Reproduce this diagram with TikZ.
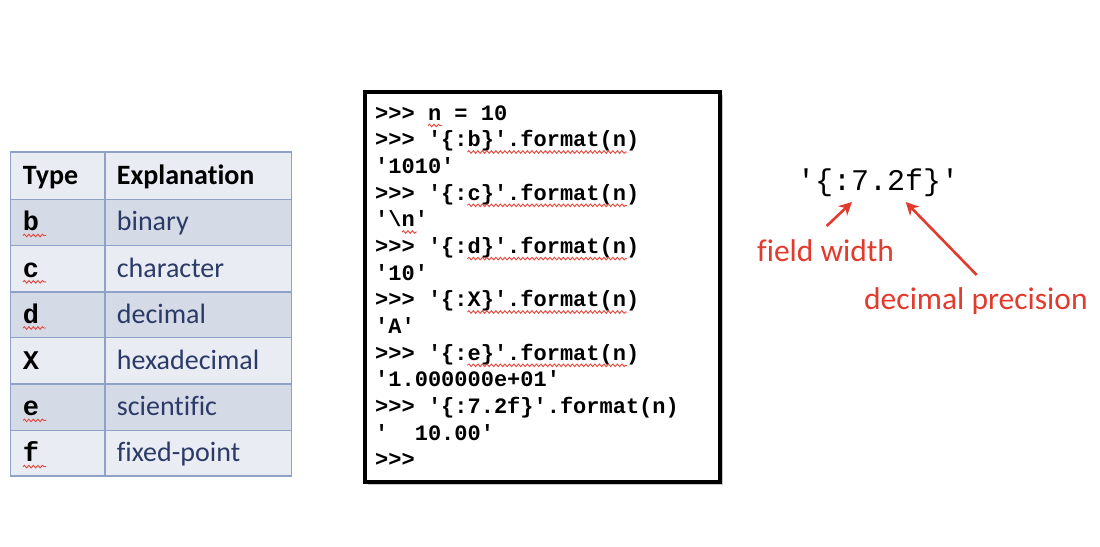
\documentclass[tikz,border=0pt]{standalone}
\usepackage{fontspec}
\setmainfont{Carlito}[Ligatures={NoCommon}]
\setmonofont{Liberation Mono}
\usetikzlibrary{arrows.meta,decorations.pathmorphing,shadows}
\definecolor{tabborder}{HTML}{8EA2C8}
\definecolor{tablight}{HTML}{EAECF4}
\definecolor{tabdark}{HTML}{D5DAE7}
\definecolor{tabtext}{HTML}{2B3A67}
\definecolor{annred}{HTML}{E23A2C}
\definecolor{squigred}{HTML}{E8473A}
\begin{document}
\begin{tikzpicture}[x=1pt,y=-1pt,
  squig/.style={draw=squigred,line width=0.9pt,decorate,decoration={snake,segment length=4.5pt,amplitude=1.3pt}},
  hdr/.style={anchor=base west,inner sep=0pt,font=\fontsize{28}{32}\selectfont\bfseries},
  typ/.style={anchor=base west,inner sep=0pt,font=\fontsize{27}{30}\selectfont\ttfamily\bfseries},
  expl/.style={anchor=base west,inner sep=0pt,text=tabtext,font=\fontsize{28}{32}\selectfont},
  term/.style={anchor=base west,inner sep=0pt,font=\fontsize{22}{26}\selectfont\ttfamily\bfseries},
  ann/.style={anchor=base west,inner sep=0pt,text=annred,font=\fontsize{31.5}{36}\selectfont},
  annarrow/.style={draw=annred,line width=2.6pt,-{Stealth[length=13pt,width=13pt]}}
]
\useasboundingbox (0,0) rectangle (1100,546);
% ---- table
\fill[tablight] (10.7,152) rectangle (291.7,199.3);
\fill[tabdark]  (10.7,199.3) rectangle (291.7,245.7);
\fill[tablight] (10.7,245.7) rectangle (291.7,291.9);
\fill[tabdark]  (10.7,291.9) rectangle (291.7,337.7);
\fill[tablight] (10.7,337.7) rectangle (291.7,384);
\fill[tabdark]  (10.7,384) rectangle (291.7,430.3);
\fill[tablight] (10.7,430.3) rectangle (291.7,476);
\draw[tabborder,line width=1.3pt] (10.7,152) rectangle (291.7,476);
\foreach \yy in {199.3,245.7,291.9,337.7,384,430.3}
  \draw[tabborder,line width=1.3pt] (10.7,\yy) -- (291.7,\yy);
\draw[tabborder,line width=1.3pt] (105,152) -- (105,476);
\node[hdr] (hType) at (22.7,184.3) {Type};
\node[hdr] (hExpl) at (116.7,184.3) {Explanation};
\node[typ] (tb) at (22.7,230.7) {b};
\node[expl] (eb) at (116.7,230.7) {binary};
\node[typ] (tc) at (22.7,277) {c};
\node[expl] (ec) at (116.7,277) {character};
\node[typ] (td) at (22.7,323) {d};
\node[expl] (ed) at (116.7,323) {decimal};
\node[typ] (tX) at (22.7,369.2) {X};
\node[expl] (eX) at (116.7,369.2) {hexadecimal};
\node[typ] (te) at (22.7,415.4) {e};
\node[expl] (ee) at (116.7,415.4) {scientific};
\node[typ] (tf) at (22.7,461.6) {f};
\node[expl] (ef) at (116.7,461.6) {fixed-point};
\foreach \yy in {235.5,281.8,328,420.4,466.6}
  \draw[squig] (23,\yy) -- (46,\yy);
% ---- terminal
\draw[line width=3.5pt,fill=white,drop shadow={shadow xshift=3pt,shadow yshift=-3pt,opacity=0.45}] (365,92) rectangle (720,482);
\node[term] (l1) at (375,120) {>{}>{}> n = 10};
\node[term] (l2) at (375,146.7) {>{}>{}> '\{:b\}'.format(n)};
\node[term] (l3) at (375,173.3) {'1010'};
\node[term] (l4) at (375,200) {>{}>{}> '\{:c\}'.format(n)};
\node[term] (l5) at (375,226.7) {'\textbackslash n'};
\node[term] (l6) at (375,253.3) {>{}>{}> '\{:d\}'.format(n)};
\node[term] (l7) at (375,280) {'10'};
\node[term] (l8) at (375,306.7) {>{}>{}> '\{:X\}'.format(n)};
\node[term] (l9) at (375,333.3) {'A'};
\node[term] (l10) at (375,360) {>{}>{}> '\{:e\}'.format(n)};
\node[term] (l11) at (375,386.7) {'1.000000e+01'};
\node[term] (l12) at (375,413.3) {>{}>{}> '\{:7.2f\}'.format(n)};
\node[term] (l13) at (375,440) {'\ \ 10.00'};
\node[term] (l14) at (375,466.7) {>{}>{}>};
\draw[squig] (428,125.5) -- (442,125.5);
\foreach \yy in {152,205.3,258.6,312,365.3}
  \draw[squig] (467.5,\yy) -- (627,\yy);
\draw[squig] (402,232) -- (417,232);
% ---- annotation
\node[anchor=base west,inner sep=0pt,font=\fontsize{30}{34}\selectfont\ttfamily] (fmt) at (797,190) {'\{:7.2f\}'};
\node[ann] (fw) at (757,261) {field width};
\node[ann] (dp) at (864,309) {decimal precision};
\coordinate (a1t) at (826.7,226);
\coordinate (a1h) at (852,202);
\coordinate (a2t) at (976.7,275);
\coordinate (a2h) at (905.7,202);
\draw[annarrow] (a1t) -- (a1h);
\draw[annarrow] (a2t) -- (a2h);
\end{tikzpicture}
\end{document}
